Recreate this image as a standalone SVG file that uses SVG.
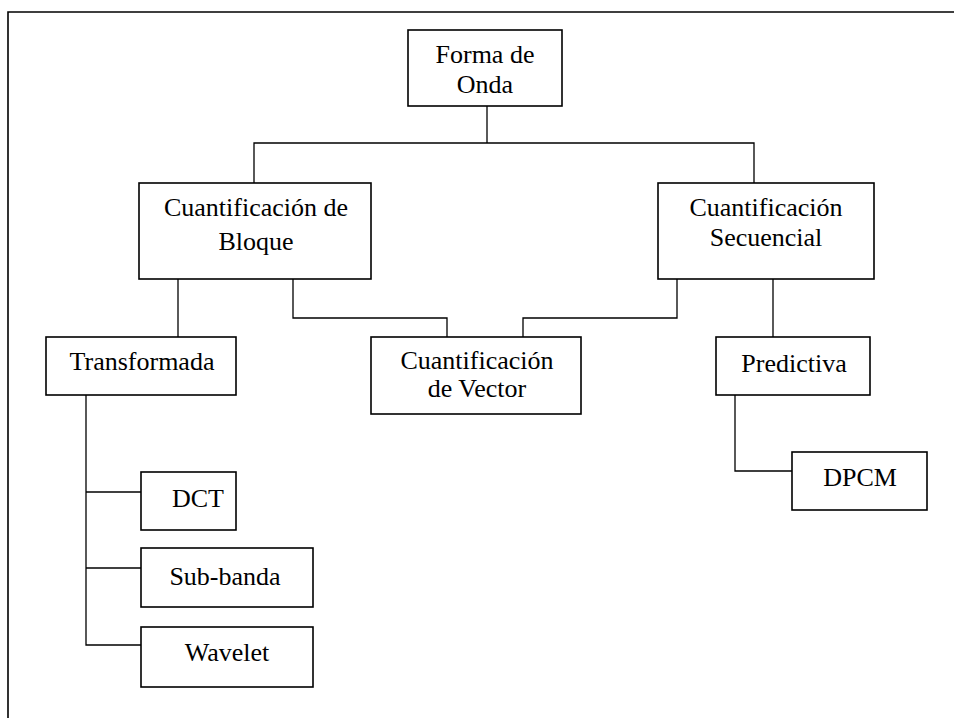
<svg xmlns="http://www.w3.org/2000/svg" width="954" height="718" viewBox="0 0 954 718">
  <style>
    .box { fill: #ffffff; stroke: #000000; stroke-width: 1.6; }
    .wire { fill: none; stroke: #000000; stroke-width: 1.3; }
    .frame { fill: none; stroke: #000000; stroke-width: 1.6; }
    text { font-family: "Liberation Serif", "Times New Roman", serif; font-size: 26px; fill: #000000; text-anchor: middle; }
  </style>
  <rect x="0" y="0" width="954" height="718" fill="#ffffff"/>

  <!-- outer frame: top rule and left rule -->
  <path class="frame" d="M8,718 V12 H954"/>

  <!-- connectors -->
  <g id="connectors">
    <path class="wire" d="M487,106 V143"/>
    <path class="wire" d="M254,183 V143 H754 V183"/>
    <path class="wire" d="M178,279 V337"/>
    <path class="wire" d="M293,279 V318 H447 V337"/>
    <path class="wire" d="M677,279 V318 H523 V337"/>
    <path class="wire" d="M773,279 V337"/>
    <path class="wire" d="M86,395 V645 H141"/>
    <path class="wire" d="M86,492 H141"/>
    <path class="wire" d="M86,568 H141"/>
    <path class="wire" d="M735,395 V471 H792"/>
  </g>

  <g id="forma-de-onda">
    <rect class="box" x="408" y="30" width="154" height="76"/>
    <text x="485" y="63">Forma de</text>
    <text x="485" y="93">Onda</text>
  </g>

  <g id="cuantificacion-bloque">
    <rect class="box" x="139" y="183" width="232" height="96"/>
    <text x="256" y="216">Cuantificación de</text>
    <text x="256" y="250">Bloque</text>
  </g>

  <g id="cuantificacion-secuencial">
    <rect class="box" x="658" y="183" width="216" height="96"/>
    <text x="766" y="216">Cuantificación</text>
    <text x="766" y="246">Secuencial</text>
  </g>

  <g id="transformada">
    <rect class="box" x="46" y="337" width="190" height="58"/>
    <text x="142" y="370">Transformada</text>
  </g>

  <g id="cuantificacion-vector">
    <rect class="box" x="371" y="337" width="210" height="77"/>
    <text x="477" y="369">Cuantificación</text>
    <text x="477" y="397">de Vector</text>
  </g>

  <g id="predictiva">
    <rect class="box" x="716" y="337" width="154" height="58"/>
    <text x="794" y="372">Predictiva</text>
  </g>

  <g id="dpcm">
    <rect class="box" x="792" y="452" width="135" height="58"/>
    <text x="860" y="486">DPCM</text>
  </g>

  <g id="dct">
    <rect class="box" x="141" y="472" width="95" height="58"/>
    <text x="198" y="507">DCT</text>
  </g>

  <g id="sub-banda">
    <rect class="box" x="141" y="548" width="172" height="59"/>
    <text x="225" y="585">Sub-banda</text>
  </g>

  <g id="wavelet">
    <rect class="box" x="141" y="627" width="172" height="60"/>
    <text x="227" y="661">Wavelet</text>
  </g>
</svg>
